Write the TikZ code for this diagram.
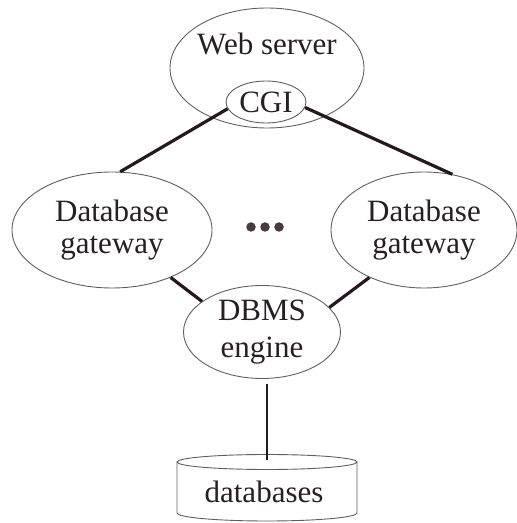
\documentclass[tikz,border=0pt]{standalone}
\usepackage{fontspec}
\setmainfont{Liberation Serif}
\usepackage{xcolor}
\usepackage{tikz}
\usetikzlibrary{positioning, calc, shapes.geometric}

\definecolor{linkclr}{RGB}{38,24,32}
\definecolor{rimclr}{RGB}{95,95,95}
\definecolor{txtclr}{RGB}{40,30,36}

\begin{document}
\begin{tikzpicture}[x=1pt, y=1pt,
                        every node/.style={font=\fontsize{31}{32}\selectfont, text=txtclr},
                        procnode/.style={ellipse, draw=rimclr, line width=0.9pt, inner sep=0pt, align=center},
                        link/.style={draw=linkclr, line width=3.2pt},
                        dotnode/.style={circle, fill=linkclr!85, inner sep=0pt, minimum size=9.5pt},
                        ]
        \useasboundingbox (0,0) rectangle (517,523);

        %Nodes
        \node[procnode, minimum width=194pt, minimum height=120pt]  (Web)   at (267,455)  {};
        \node[anchor=base]                                          (WebL)  at (267,468)  {Web server};
        \node[procnode, minimum width=80pt, minimum height=42pt]    (CGI)   at (266,421)  {CGI};

        \node[procnode, minimum width=200pt, minimum height=116pt]  (GateL) at (112,293)  {Database\\gateway};
        \node[procnode, minimum width=186pt, minimum height=116pt]  (GateR) at (424,293)  {Database\\gateway};

        \foreach \i/\x in {1/251, 2/265, 3/279}
            \node[dotnode] (Dot\i) at (\x,296) {};

        \node[procnode, minimum width=157pt, minimum height=93pt]   (DBMS)  at (262,191)  {DBMS\\[5pt]engine};

        \node                                                       (DB)    at (264,31)   {databases};
        \coordinate                                                 (DBtop) at (267,63);

        %Cylinder
        \draw[draw=rimclr, line width=0.9pt] (177,61) -- (177,10) arc[start angle=180, end angle=360, x radius=90, y radius=8] -- (357,61);
        \draw[draw=rimclr, line width=0.9pt] (267,61) ellipse [x radius=90, y radius=7.5];

        %Lines
        \draw[link] (CGI.190)    -- (GateL.82);
        \draw[link] (CGI.352)    -- (GateR.63);
        \draw[link] (GateL.321)  -- (DBMS.153);
        \draw[link] (GateR.221)  -- (DBMS.20);
        \draw[link, line width=2.6pt, shorten <=5pt] (DBMS.south -| DBtop) -- (DBtop);
    \end{tikzpicture}
\end{document}
